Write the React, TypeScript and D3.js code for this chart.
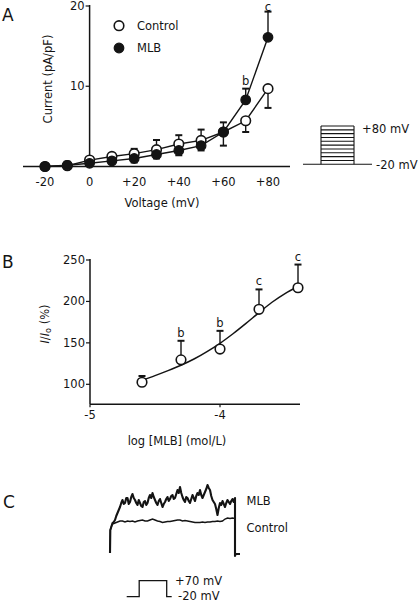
import React from "react";
import * as d3 from "d3";

// ---------- Panel A data ----------
const voltages = [-20, -10, 0, 10, 20, 30, 40, 50, 60, 70, 80];
const controlMean = [0.0, 0.1, 0.8, 1.25, 1.6, 2.1, 2.8, 3.25, 4.3, 5.7, 9.7];
const controlErrEnd = [null, null, 1.1, 1.6, 2.2, 3.3, 3.9, 4.6, 5.5, 4.3, 7.3];
const mlbMean = [0.0, 0.15, 0.4, 0.7, 1.0, 1.5, 2.0, 2.6, 4.3, 8.3, 16.1];
const mlbErrEnd = [null, 0.6, null, null, 0.5, 1.0, 1.4, 2.0, 2.6, 9.7, 19.3];
const aXTicks = [-20, 0, 20, 40, 60, 80];
const aXTickLabels = ["-20", "0", "+20", "+40", "+60", "+80"];
const aYTicks = [10, 20];
const aSigLabels = [
  { v: 70, y: 10.2, t: "b" },
  { v: 80, y: 19.4, t: "c" },
];
const stepLevels = [-10, 0, 10, 20, 30, 40, 50, 60, 70, 80];

// ---------- Panel B data ----------
const logConc = [-4.6, -4.3, -4.0, -3.7, -3.4];
const ratioMean = [102.5, 129.5, 142.5, 190.5, 216.5];
const ratioErrTop = [110, 152.5, 164.5, 214.5, 244.5];
const ratioSig = ["", "b", "b", "c", "c"];
const fitLog = [-4.6, -4.5, -4.4, -4.3, -4.2, -4.1, -4.0, -3.9, -3.8, -3.7, -3.6, -3.5, -3.4];
const fitVal = [105, 110.5, 116.5, 123, 130.5, 139.5, 149.5, 161, 173.5, 186.5, 199, 209.5, 218];
const bXTicks = [-5, -4];
const bYTicks = [100, 150, 200, 250];

// ---------- Panel C data (ms, arbitrary current units) ----------
const mlbTrace: [number, number][] = [
  [0, 0], [0.5, 23], [2, 26], [4, 30], [6, 31], [8, 33], [10, 37], [12, 40], [14, 43], [16, 46],
  [18, 50], [20, 53], [22, 49], [24, 50], [26, 55], [28, 55], [30, 49], [32, 51], [34, 56], [36, 59],
  [38, 55], [40, 53], [42, 50], [44, 48], [46, 53], [48, 50], [50, 47], [52, 46], [54, 51], [56, 52],
  [58, 48], [60, 50], [62, 55], [64, 58], [66, 55], [68, 60], [70, 56], [72, 53], [74, 50], [76, 48],
  [78, 52], [80, 54], [82, 50], [84, 46], [86, 49], [88, 51], [90, 54], [92, 56], [94, 52], [96, 54],
  [98, 57], [100, 58], [102, 54], [104, 55], [106, 59], [108, 63], [110, 60], [112, 66], [114, 60], [116, 56],
  [118, 53], [120, 51], [122, 56], [124, 55], [126, 52], [128, 50], [130, 54], [132, 58], [134, 55], [136, 52],
  [138, 57], [140, 60], [142, 58], [144, 63], [146, 58], [148, 55], [150, 58], [152, 61], [154, 64], [156, 68],
  [158, 65], [160, 63], [162, 57], [164, 53], [166, 51], [168, 49], [170, 44], [172, 38], [174, 45], [176, 50],
  [178, 48], [180, 52], [182, 49], [184, 46], [186, 50], [188, 53], [190, 51], [192, 49], [194, 52], [196, 54],
  [198, 51], [200, 55], [200, -3], [201, -1], [208, -1],
];
const controlTrace: [number, number][] = [
  [0, 0], [0.5, 23], [2, 26], [4, 29], [8, 30], [12, 31], [16, 32], [20, 32], [24, 31], [28, 32],
  [32, 31.5], [36, 32], [40, 31], [44, 32], [48, 32.5], [52, 33], [56, 32], [60, 32], [64, 33], [68, 34],
  [72, 33], [76, 32], [80, 31.5], [84, 30.5], [88, 31], [92, 31.5], [96, 31.5], [100, 32], [104, 32.5], [108, 33],
  [112, 33], [116, 32], [120, 32.5], [124, 32], [128, 31.5], [132, 31], [136, 30.5], [140, 30.5], [144, 30.5], [148, 31],
  [152, 30.5], [156, 31], [160, 31], [164, 31.5], [168, 31.5], [172, 32], [176, 31.5], [180, 32], [184, 34], [188, 35],
  [192, 34.5], [196, 35], [200, 34.5], [200, 0],
];
const pulseProtocol: [number, number][] = [
  [-20, -20], [0, -20], [0, 70], [44, 70], [44, -20], [52, -20],
];

const FONT = "'DejaVu Sans', Verdana, sans-serif";
const INK = "#141414";

export default function App() {
  // Panel A scales
  const xA = d3.scaleLinear().domain([-20, 80]).range([45, 268]);
  const yA = d3.scaleLinear().domain([0, 20]).range([166.5, 6]);
  const lineA = d3
    .line<number>()
    .x((_, i) => xA(voltages[i]))
    .y((d) => yA(d));
  // protocol inset
  const vInset = d3.scaleLinear().domain([-20, 80]).range([164.3, 126]);

  // Panel B scales
  const xB = d3.scaleLinear().domain([-5, -4]).range([90, 220]);
  const yB = d3.scaleLinear().domain([100, 250]).range([384.3, 260]);
  const yBBottom = yB(76);
  const fitLine = d3
    .line<number>()
    .x((_, i) => xB(fitLog[i]))
    .y((d) => yB(d))
    .curve(d3.curveMonotoneX);

  // Panel C scales
  const xC = d3.scaleLinear().domain([0, 200]).range([110, 235]);
  const yC = d3.scaleLinear().domain([0, 70]).range([553, 483]);
  const traceLine = d3
    .line<[number, number]>()
    .x((d) => xC(d[0]))
    .y((d) => yC(d[1]));
  const xP = d3.scaleLinear().domain([-20, 52]).range([126.7, 171.7]);
  const yP = d3.scaleLinear().domain([-20, 70]).range([596.7, 580.7]);
  const protoLine = d3
    .line<[number, number]>()
    .x((d) => xP(d[0]))
    .y((d) => yP(d[1]));

  const r = 4.8;
  const cap = 3.5;

  const errBar = (x: number, y0: number, y1: number, key: string) => (
    <g key={key} stroke={INK} strokeWidth={1.4}>
      <line x1={x} x2={x} y1={y0} y2={y1} />
      <line x1={x - cap} x2={x + cap} y1={y1} y2={y1} strokeWidth={2} />
    </g>
  );

  return (
    <svg
      width={420}
      height={603}
      style={{ position: "absolute", left: 0, top: 0, background: "#fff" }}
      fontFamily={FONT}
      fill={INK}
    >
      {/* ================= Panel A ================= */}
      <text x={2} y={21} fontSize={17}>A</text>
      <line x1={23} x2={290} y1={yA(0)} y2={yA(0)} stroke={INK} strokeWidth={1.5} />
      <line x1={xA(0)} x2={xA(0)} y1={yA(0)} y2={yA(20) - 1} stroke={INK} strokeWidth={1.5} />
      {aYTicks.map((t) => (
        <g key={"ay" + t}>
          <line x1={xA(0) - 4} x2={xA(0)} y1={yA(t)} y2={yA(t)} stroke={INK} strokeWidth={1.2} />
          <text x={xA(0) - 5} y={yA(t)} fontSize={11.5} textAnchor="end" dominantBaseline="central">
            {t}
          </text>
        </g>
      ))}
      {aXTicks.map((t, i) => (
        <text key={"ax" + t} x={xA(t)} y={182} fontSize={11.5} textAnchor="middle" dominantBaseline="central">
          {aXTickLabels[i]}
        </text>
      ))}
      <text
        transform={`translate(48,79) rotate(-90)`}
        fontSize={11.5}
        textAnchor="middle"
        dominantBaseline="central"
      >
        Current (pA/pF)
      </text>
      <text x={162} y={202.5} fontSize={11.5} textAnchor="middle" dominantBaseline="central">
        Voltage (mV)
      </text>

      <path d={lineA(controlMean) || ""} fill="none" stroke={INK} strokeWidth={1.4} />
      <path d={lineA(mlbMean) || ""} fill="none" stroke={INK} strokeWidth={1.4} />
      {controlErrEnd.map((e, i) =>
        e == null ? null : errBar(xA(voltages[i]), yA(controlMean[i]), yA(e), "ce" + i)
      )}
      {mlbErrEnd.map((e, i) =>
        e == null ? null : errBar(xA(voltages[i]), yA(mlbMean[i]), yA(e), "me" + i)
      )}
      {controlMean.map((v, i) => (
        <circle key={"cm" + i} cx={xA(voltages[i])} cy={yA(v)} r={r} fill="#fff" stroke={INK} strokeWidth={1.6} />
      ))}
      {mlbMean.map((v, i) => (
        <circle key={"mm" + i} cx={xA(voltages[i])} cy={yA(v)} r={r} fill={INK} stroke={INK} strokeWidth={1.2} />
      ))}
      {aSigLabels.map((s) => (
        <text key={"sig" + s.v} x={xA(s.v)} y={yA(s.y)} fontSize={11.5} textAnchor="middle">
          {s.t}
        </text>
      ))}
      <circle cx={119} cy={25.7} r={r} fill="#fff" stroke={INK} strokeWidth={1.6} />
      <text x={137} y={26} fontSize={11.5} dominantBaseline="central">Control</text>
      <circle cx={119} cy={48} r={r} fill={INK} stroke={INK} strokeWidth={1.2} />
      <text x={137} y={48.3} fontSize={11.5} dominantBaseline="central">MLB</text>

      <g stroke={INK} strokeWidth={1.1} fill="none">
        <line x1={303} x2={372} y1={vInset(-20)} y2={vInset(-20)} />
        <line x1={321} x2={321} y1={vInset(-20)} y2={vInset(80)} />
        <line x1={354} x2={354} y1={vInset(-20)} y2={vInset(80)} />
        {stepLevels.map((v) => (
          <line key={"st" + v} x1={321} x2={354} y1={vInset(v)} y2={vInset(v)} />
        ))}
      </g>
      <text x={362} y={129} fontSize={11.5} dominantBaseline="central">+80 mV</text>
      <text x={376} y={164.5} fontSize={11.5} dominantBaseline="central">-20 mV</text>

      {/* ================= Panel B ================= */}
      <text x={2} y={268} fontSize={17}>B</text>
      <line x1={xB(-5)} x2={300} y1={yBBottom} y2={yBBottom} stroke={INK} strokeWidth={1.5} />
      <line x1={xB(-5)} x2={xB(-5)} y1={yBBottom} y2={yB(250) - 1} stroke={INK} strokeWidth={1.5} />
      {bYTicks.map((t) => (
        <g key={"by" + t}>
          <line x1={xB(-5) - 4} x2={xB(-5)} y1={yB(t)} y2={yB(t)} stroke={INK} strokeWidth={1.2} />
          <text x={xB(-5) - 5} y={yB(t)} fontSize={11.5} textAnchor="end" dominantBaseline="central">
            {t}
          </text>
        </g>
      ))}
      {bXTicks.map((t) => (
        <g key={"bx" + t}>
          <line x1={xB(t)} x2={xB(t)} y1={yBBottom} y2={yBBottom + 3} stroke={INK} strokeWidth={1.2} />
          <text x={xB(t)} y={415} fontSize={11.5} textAnchor="middle" dominantBaseline="central">
            {t}
          </text>
        </g>
      ))}
      <text x={177} y={441} fontSize={11.5} textAnchor="middle" dominantBaseline="central">
        log [MLB] (mol/L)
      </text>
      <text
        transform={`translate(45,324) rotate(-90)`}
        fontSize={11.5}
        textAnchor="middle"
        dominantBaseline="central"
      >
        <tspan fontStyle="italic">I</tspan>
        <tspan>/</tspan>
        <tspan fontStyle="italic">I</tspan>
        <tspan fontSize={8} dy={3}>o</tspan>
        <tspan dy={-3}> (%)</tspan>
      </text>
      <path d={fitLine(fitVal) || ""} fill="none" stroke={INK} strokeWidth={1.5} />
      {ratioErrTop.map((e, i) => errBar(xB(logConc[i]), yB(ratioMean[i]), yB(e), "be" + i))}
      {ratioMean.map((v, i) => (
        <circle key={"bm" + i} cx={xB(logConc[i])} cy={yB(v)} r={r} fill="#fff" stroke={INK} strokeWidth={1.6} />
      ))}
      {ratioSig.map((s, i) =>
        s ? (
          <text key={"bs" + i} x={xB(logConc[i])} y={yB(ratioErrTop[i]) - 4} fontSize={11.5} textAnchor="middle">
            {s}
          </text>
        ) : null
      )}

      {/* ================= Panel C ================= */}
      <text x={3} y={508} fontSize={17}>C</text>
      <path d={traceLine(controlTrace) || ""} fill="none" stroke={INK} strokeWidth={1.4} />
      <path d={traceLine(mlbTrace) || ""} fill="none" stroke={INK} strokeWidth={2.1} strokeLinejoin="round" />
      <text x={246.5} y={501} fontSize={11.5} dominantBaseline="central">MLB</text>
      <text x={246.5} y={527.5} fontSize={11.5} dominantBaseline="central">Control</text>
      <path d={protoLine(pulseProtocol) || ""} fill="none" stroke={INK} strokeWidth={1.3} />
      <text x={175} y={580.5} fontSize={11.5} dominantBaseline="central">+70 mV</text>
      <text x={178} y={596} fontSize={11.5} dominantBaseline="central">-20 mV</text>
    </svg>
  );
}
